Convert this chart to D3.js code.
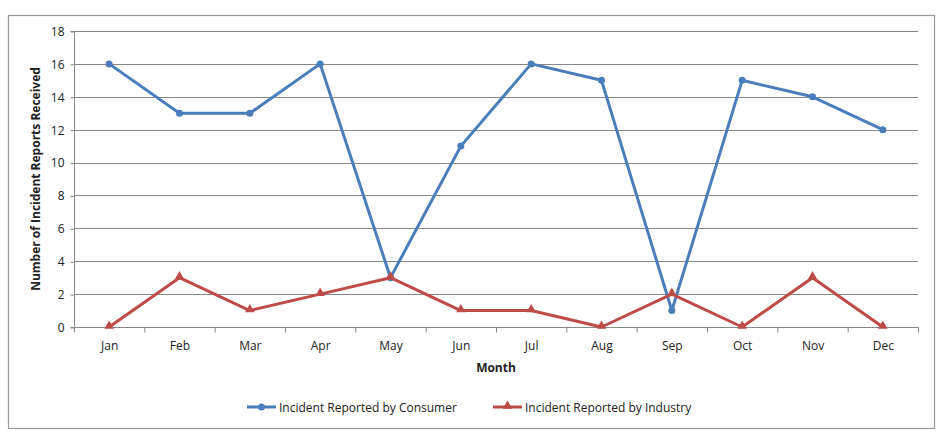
<!DOCTYPE html>
<html><head><meta charset="utf-8">
<script src="https://cdn.jsdelivr.net/npm/d3@7"></script>
<style>body{margin:0;background:#fff}svg{display:block}text{font-family:"Open Sans",sans-serif}</style>
</head><body><svg id="c" width="950" height="448"></svg>
<script>
const months = ["Jan","Feb","Mar","Apr","May","Jun","Jul","Aug","Sep","Oct","Nov","Dec"];
const consumer = [16,13,13,16,3,11,16,15,1,15,14,12];
const industry = [0,3,1,2,3,1,1,0,2,0,3,0];
const yTicks = [0,2,4,6,8,10,12,14,16,18];
const seriesNames = ["Incident Reported by Consumer","Incident Reported by Industry"];
const colors = ["#4a7ebb","#be4b48"];

const svg = d3.select("#c");
svg.append("rect").attr("x",8.5).attr("y",15.5).attr("width",926).attr("height",413)
  .attr("fill","#fff").attr("stroke","#999").attr("stroke-width",1.2);

const L=74, R=918, T=31, B=327;
const x = d3.scaleBand().domain(months).range([L,R]);
const y = d3.scaleLinear().domain([0,18]).range([B,T]);

// gridlines
svg.append("g").selectAll("line").data(yTicks.filter(d=>d>0)).join("line")
  .attr("x1",L).attr("x2",R).attr("y1",d=>Math.round(y(d))+0.5).attr("y2",d=>Math.round(y(d))+0.5)
  .attr("stroke","#888").attr("stroke-width",1);

// y axis
const ya = svg.append("g").attr("transform",`translate(${L+0.5},0.5)`)
  .call(d3.axisLeft(y).tickValues(yTicks).tickSize(4).tickPadding(6));
ya.select(".domain").attr("stroke","#888").attr("d",`M-4,${B}H0V${T}H-4`);
ya.selectAll(".tick line").attr("stroke","#888");
ya.selectAll("text").attr("font-size",12).attr("fill","#222");

// x axis
const xa = svg.append("g").attr("transform",`translate(0.5,${B+0.5})`)
  .call(d3.axisBottom(x).tickSize(0).tickPadding(14));
xa.select(".domain").attr("stroke","#888").attr("d",`M${L},0H${R}`);
xa.selectAll("text").attr("font-size",12).attr("fill","#222");
const bounds = months.map(m=>x(m)).concat([R]);
xa.append("g").selectAll("line").data(bounds).join("line")
  .attr("x1",d=>d).attr("x2",d=>d).attr("y1",0).attr("y2",5).attr("stroke","#888");

// labels
svg.append("text").attr("x",496).attr("y",372).attr("text-anchor","middle")
  .attr("font-size",12).attr("font-weight","bold").attr("fill","#222").text("Month");
svg.append("text").attr("transform","translate(40,179) rotate(-90)").attr("text-anchor","middle")
  .attr("font-size",12).attr("font-weight","bold").attr("fill","#222").text("Number of Incident Reports Received");

const cx = m => x(m)+x.bandwidth()/2;
const line = d3.line().x((d,i)=>cx(months[i])).y(d=>y(d));
const tri = d3.symbol().type(d3.symbolTriangle).size(40);

[consumer, industry].forEach((s,k)=>{
  svg.append("path").datum(s).attr("d",line).attr("fill","none")
    .attr("stroke",colors[k]).attr("stroke-width",3).attr("stroke-linejoin","round");
  const g = svg.append("g");
  if(k===0){
    g.selectAll("circle").data(s).join("circle").attr("cx",(d,i)=>cx(months[i])).attr("cy",d=>y(d))
      .attr("r",3.5).attr("fill",colors[k]);
  } else {
    g.selectAll("path").data(s).join("path").attr("d",tri)
      .attr("transform",(d,i)=>`translate(${cx(months[i])},${y(d)-1})`).attr("fill",colors[k]);
  }
});

// legend
const lg = [{x:247,tx:279},{x:493,tx:525}];
lg.forEach((p,k)=>{
  const g = svg.append("g");
  g.append("line").attr("x1",p.x).attr("x2",p.x+29).attr("y1",407).attr("y2",407)
    .attr("stroke",colors[k]).attr("stroke-width",3);
  if(k===0) g.append("circle").attr("cx",p.x+14.5).attr("cy",407).attr("r",3.5).attr("fill",colors[k]);
  else g.append("path").attr("d",tri).attr("transform",`translate(${p.x+14.5},406)`).attr("fill",colors[k]);
  g.append("text").attr("x",p.tx).attr("y",411.5).attr("font-size",12).attr("fill","#222").text(seriesNames[k]);
});
</script></body></html>
